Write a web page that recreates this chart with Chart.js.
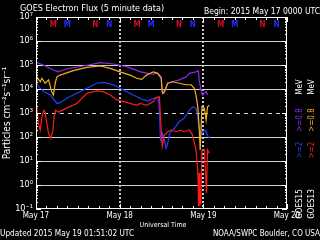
<!DOCTYPE html>
<html>
<head>
<meta charset="utf-8">
<script src="https://cdn.jsdelivr.net/npm/chart.js@4"></script>
<style>
html, body { margin: 0; padding: 0; background: #000; }
canvas { display: block; }
</style>
</head>
<body>
<canvas id="fluxChart" width="320" height="240"></canvas>
<script>
// hours since 2015 May 17 00:00 UT
var dayLabels = ['May 17', 'May 18', 'May 19', 'May 20'];
var yTickExps = [-1, 0, 1, 2, 3, 4, 5, 6, 7];
var gridExps = [0, 1, 2, 3, 4, 5, 6];
var dayLineHours = [24, 48];

// GOES15 >=0.8 MeV (purple)
var g15LoHours = [0, 2.1, 5.0, 6.4, 8.7, 13.6, 18.5, 22.2, 26.0, 30.0, 32.2, 33.7, 34.8, 35.9, 36.2, 36.8, 37.7, 39.1, 41.1, 43.1, 44.0, 45.9, 46.6, 46.8, 47.3, 47.7, 48.8, 49.2];
var g15LoFlux = [1.3e5, 1.0e5, 6.2e4, 5.2e4, 6.8e4, 9.1e4, 1.26e5, 1.1e5, 8.5e4, 5.2e4, 4.5e4, 4.2e4, 4.7e4, 3.2e4, 7.8e3, 6.6e3, 1.74e4, 2.0e4, 2.4e4, 3.2e4, 4.5e4, 5.2e4, 5.8e4, 2.4e4, 9.1e3, 5.6e3, 7.8e3, 5.6e3];

// GOES13 >=0.8 MeV (orange)
var g13LoHours = [0, 0.25, 1.2, 1.7, 2.6, 3.6, 4.5, 5.0, 5.5, 6.0, 6.9, 10.7, 14.6, 18.4, 21.3, 24.1, 27.0, 28.9, 30.3, 31.7, 33.7, 34.9, 35.9, 36.3, 36.8, 37.8, 39.2, 41.1, 43.0, 44.5, 45.4, 45.9, 46.4, 46.8, 47.1, 47.6, 48.3, 48.8, 49.2, 49.7];
var g13LoFlux = [4.8e4, 3.2e4, 2.0e4, 2.8e4, 1.74e4, 2.4e4, 7.8e3, 5.6e3, 1.74e4, 3.2e4, 3.8e4, 5.8e4, 7.9e4, 9.1e4, 7.2e4, 5.2e4, 3.8e4, 2.8e4, 2.5e4, 3.8e4, 5.2e4, 4.5e4, 2.8e4, 6.6e3, 7.8e3, 1.74e4, 2.0e4, 1.74e4, 1.5e4, 1.5e4, 1.07e4, 5.6e3, 1.8e3, 270, 29, 1.8e3, 1.6e3, 500, 1.8e3, 2.1e3];

// GOES15 >=2 MeV (blue)
var g15HiHours = [0, 0.7, 2.2, 4.1, 6.0, 6.9, 8.8, 11.7, 14.6, 17.4, 19.3, 22.2, 25.1, 27.9, 30.8, 32.2, 33.7, 35.0, 35.4, 35.7, 36.3, 36.8, 37.3, 37.8, 38.3, 39.7, 41.1, 42.5, 44.0, 44.9, 45.9, 46.4, 46.8, 47.6, 48.3, 48.8, 49.2, 49.7];
var g15HiFlux = [2.0e4, 1.26e4, 7.8e3, 5.6e3, 2.5e3, 2.7e3, 4.1e3, 6.6e3, 1.07e4, 1.74e4, 1.9e4, 1.5e4, 9.1e3, 5.6e3, 3.5e3, 3.2e3, 4.1e3, 4.5e3, 1.3e3, 75, 141, 75, 34, 55, 141, 230, 440, 600, 1.3e3, 1.8e3, 1.6e3, 710, 195, 141, 195, 166, 120, 89];

// GOES13 >=2 MeV (red)
var g13HiHours = [0, 0.3, 0.7, 1.2, 1.7, 2.2, 2.6, 3.1, 3.6, 4.2, 4.8, 5.2, 5.6, 6.5, 8.8, 11.7, 14.6, 17.4, 19.3, 21.3, 23.2, 25.1, 27.0, 28.9, 29.9, 31.7, 33.7, 34.4, 35.4, 35.7, 36.2, 36.8, 37.8, 38.7, 40.2, 41.6, 42.5, 44.0, 44.9, 45.9, 46.3, 46.5, 46.6, 46.8, 47.0, 47.3, 47.6, 48.3, 48.9, 49.2, 49.7];
var g13HiFlux = [3.0e3, 1.8e3, 370, 195, 710, 1.3e3, 1.1e3, 370, 141, 89, 166, 710, 1.3e3, 1.1e3, 1.6e3, 2.5e3, 6.6e3, 8.3e3, 7.8e3, 5.6e3, 3.5e3, 3.0e3, 2.5e3, 2.1e3, 2.5e3, 2.1e3, 3.0e3, 4.4e3, 4.8e3, 710, 40, 120, 166, 195, 166, 195, 166, 195, 120, 29, 5.8, 1.6, 0.13, 3.2, 0.15, 0.17, 29, 29, 0.45, 29, 21];

// local midnight (M) / noon (N) marks
var m13Hours = [5, 29, 53];
var m15Hours = [9, 33, 57];
var n13Hours = [17, 41, 65];
var n15Hours = [21, 45, 69];

var RED = '#ff1a1a', BLUE = '#2040ff', PURPLE = '#8a2be2', ORANGE = '#f0b020';
var RED_TXT = '#d01020', BLUE_TXT = '#2828ff';
var FONT = "'Liberation Sans Narrow', 'DejaVu Sans Condensed', 'Liberation Sans', sans-serif";

function pts(h, f) {
    return h.map(function(x, i) { return { x: x, y: f[i] }; });
}

var supMap = { '-': '\u207B', '0': '\u2070', '1': '\u00B9', '2': '\u00B2', '3': '\u00B3', '4': '\u2074', '5': '\u2075', '6': '\u2076', '7': '\u2077', '8': '\u2078', '9': '\u2079' };
function sup(n) {
    return String(n).split('').map(function(ch) { return supMap[ch]; }).join('');
}

var decor = {
    id: 'decor',
    beforeDraw: function(chart) {
        var c = chart.ctx;
        c.save();
        c.fillStyle = '#000';
        c.fillRect(0, 0, chart.width, chart.height);
        c.restore();
    },
    beforeDatasetsDraw: function(chart) {
        var c = chart.ctx, a = chart.chartArea, xs = chart.scales.x, ys = chart.scales.y;
        c.save();
        c.strokeStyle = '#d0d0d0';
        c.lineWidth = 1;
        gridExps.forEach(function(e) {
            var y = Math.round(ys.getPixelForValue(Math.pow(10, e))) + 0.5;
            c.setLineDash(e === 3 ? [4, 4] : []);
            c.beginPath(); c.moveTo(a.left, y); c.lineTo(a.right, y); c.stroke();
        });
        c.setLineDash([2, 2]);
        c.lineWidth = 2;
        c.strokeStyle = '#c8c8c8';
        dayLineHours.forEach(function(h) {
            var x = Math.round(xs.getPixelForValue(h));
            c.beginPath(); c.moveTo(x, a.top); c.lineTo(x, a.bottom); c.stroke();
        });
        c.restore();
    },
    afterDraw: function(chart) {
        var c = chart.ctx, a = chart.chartArea, xs = chart.scales.x, ys = chart.scales.y;
        c.save();
        // frame
        c.strokeStyle = '#ffffff';
        c.lineWidth = 1;
        c.strokeRect(a.left + 0.5, a.top + 0.5, a.right - a.left - 1, a.bottom - a.top - 1);
        // x ticks every 3 h, top and bottom, pointing in
        c.beginPath();
        for (var h = 0; h <= 72; h += 3) {
            var x = Math.round(xs.getPixelForValue(h)) + 0.5;
            var len = (h % 24 === 0) ? 5 : 3;
            c.moveTo(x, a.bottom); c.lineTo(x, a.bottom - len);
            c.moveTo(x, a.top); c.lineTo(x, a.top + len);
        }
        // y ticks, both sides
        for (var e = -1; e < 7; e++) {
            for (var m = 1; m <= 9; m++) {
                var y = Math.round(ys.getPixelForValue(m * Math.pow(10, e))) + 0.5;
                var l = m === 1 ? 5 : 2;
                c.moveTo(a.left, y); c.lineTo(a.left + l, y);
                c.moveTo(a.right, y); c.lineTo(a.right - l, y);
            }
        }
        c.stroke();

        // M / N marks
        c.font = 'bold 8px ' + FONT;
        c.textAlign = 'center';
        c.textBaseline = 'middle';
        var marks = [[m13Hours, 'M', RED_TXT], [m15Hours, 'M', BLUE_TXT], [n13Hours, 'N', RED_TXT], [n15Hours, 'N', BLUE_TXT]];
        marks.forEach(function(mk) {
            c.fillStyle = mk[2];
            mk[0].forEach(function(h) { c.fillText(mk[1], xs.getPixelForValue(h), 25); });
        });

        c.fillStyle = '#ffffff';
        c.font = '9px ' + FONT;
        c.textAlign = 'left';
        c.fillText('GOES Electron Flux (5 minute data)', 20, 9);
        c.font = '8.5px ' + FONT;
        c.textAlign = 'right';
        c.fillText('Begin: 2015 May 17 0000 UTC', 320, 12);

        c.font = '7px ' + FONT;
        c.textAlign = 'center';
        c.fillText('Universal Time', 163, 225);

        c.font = '8.2px ' + FONT;
        c.textAlign = 'left';
        c.fillText('Updated 2015 May 19 01:51:02 UTC', 0, 234);
        c.textAlign = 'right';
        c.font = '8px ' + FONT;
        c.fillText('NOAA/SWPC Boulder, CO USA', 320, 234);

        // y axis title
        c.save();
        c.translate(7, 113);
        c.rotate(-Math.PI / 2);
        c.textAlign = 'center';
        c.font = '10px ' + FONT;
        c.fillText('Particles cm\u207B\u00B2s\u207B\u00B9sr\u207B\u00B9', 0, 0);
        c.restore();

        // right side legend columns
        var cols = [
            [300, [['GOES15', '#ffffff', 204], ['>=2', BLUE, 150], ['>=0.8', PURPLE, 120], ['MeV', '#ffffff', 87]]],
            [312, [['GOES13', '#ffffff', 204], ['>=2', RED, 150], ['>=0.8', ORANGE, 120], ['MeV', '#ffffff', 87]]]
        ];
        c.font = '8px ' + FONT;
        cols.forEach(function(col) {
            col[1].forEach(function(p) {
                c.save();
                c.translate(col[0], p[2]);
                c.rotate(-Math.PI / 2);
                c.textAlign = 'center';
                c.fillStyle = p[1];
                c.fillText(p[0], 0, 0);
                c.restore();
            });
        });
        c.restore();
    }
};

var lineStyle = { pointRadius: 0, borderWidth: 1.2, tension: 0, fill: false };

var ctx = document.getElementById('fluxChart').getContext('2d');
var fluxChart = new Chart(ctx, {
    type: 'line',
    data: {
        datasets: [
            Object.assign({ label: 'GOES13 >=2 MeV', data: pts(g13HiHours, g13HiFlux), borderColor: RED }, lineStyle),
            Object.assign({ label: 'GOES13 >=0.8 MeV', data: pts(g13LoHours, g13LoFlux), borderColor: ORANGE }, lineStyle),
            Object.assign({ label: 'GOES15 >=2 MeV', data: pts(g15HiHours, g15HiFlux), borderColor: BLUE }, lineStyle),
            Object.assign({ label: 'GOES15 >=0.8 MeV', data: pts(g15LoHours, g15LoFlux), borderColor: PURPLE }, lineStyle)
        ]
    },
    options: {
        responsive: false,
        animation: false,
        devicePixelRatio: 1,
        layout: { padding: { top: 17, right: 33, left: 0, bottom: 0 } },
        plugins: { legend: { display: false }, tooltip: { enabled: false } },
        scales: {
            x: {
                type: 'linear',
                min: 0,
                max: 72,
                grid: { display: false, drawTicks: false },
                border: { display: false },
                ticks: {
                    stepSize: 24,
                    maxRotation: 0,
                    padding: 2,
                    color: '#ffffff',
                    font: { family: FONT, size: 8 },
                    callback: function(v) { return dayLabels[v / 24]; }
                },
                afterFit: function(scale) { scale.height = 31; }
            },
            y: {
                type: 'logarithmic',
                min: 0.1,
                max: 1e7,
                grid: { display: false, drawTicks: false },
                border: { display: false },
                afterBuildTicks: function(scale) {
                    scale.ticks = yTickExps.map(function(e) { return { value: Math.pow(10, e) }; });
                },
                ticks: {
                    autoSkip: false,
                    padding: 3,
                    color: '#ffffff',
                    font: { family: FONT, size: 9 },
                    callback: function(v) { return '10' + sup(Math.round(Math.log10(v))); }
                },
                afterFit: function(scale) { scale.width = 36; }
            }
        }
    },
    plugins: [decor]
});
</script>
</body>
</html>
